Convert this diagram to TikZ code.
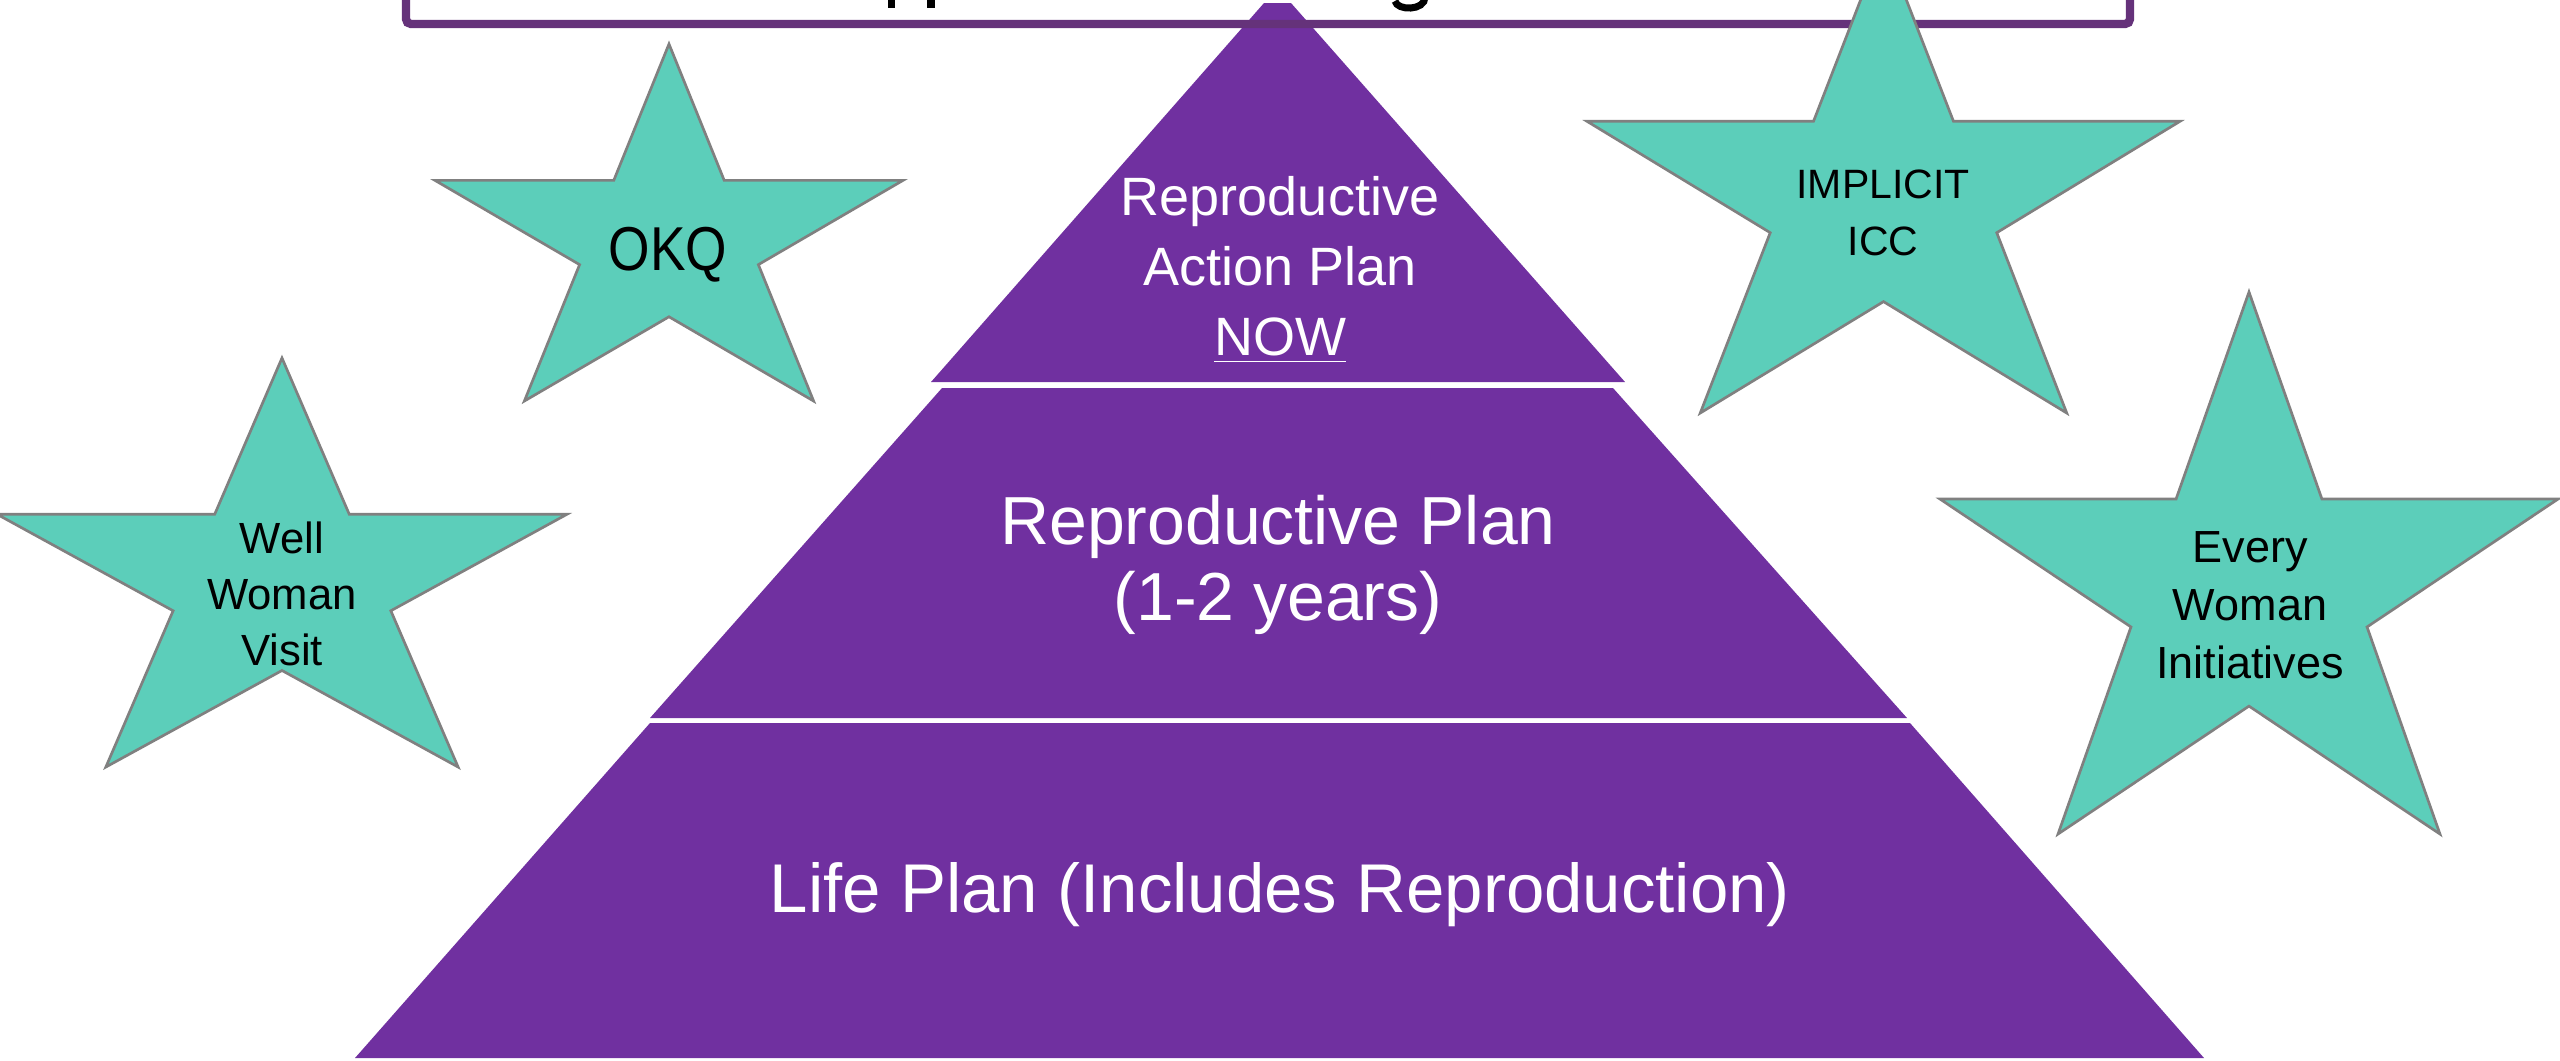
\documentclass[tikz,border=0pt]{standalone}
\usepackage{fontspec}
\setmainfont{Liberation Sans}
\newfontfamily\okqfont[FakeStretch=0.86]{Liberation Sans}
\definecolor{pyr}{RGB}{112,48,160}
\definecolor{starfill}{RGB}{92,206,186}
\definecolor{starline}{RGB}{128,128,128}
\definecolor{boxline}{RGB}{101,50,122}
\newcommand{\drawstar}[4]{%
  \draw[starbody, shift={(#1,#2)}, xscale=#3, yscale=#4]
    (0.5,0) -- (0.618,0.382) -- (1,0.382) -- (0.691,0.618) -- (0.809,1)
    -- (0.5,0.764) -- (0.191,1) -- (0.309,0.618) -- (0,0.382) -- (0.382,0.382) -- cycle;}
\begin{document}
\begin{tikzpicture}[x=0.3pt,y=-0.3pt,
  starbody/.style={fill=starfill, draw=starline, line width=0.8pt, line join=miter},
  tier/.style={fill=pyr},
  titlebox/.style={draw=boxline, line width=2.5pt, rounded corners=1.5pt},
  pyrtext/.style={text=white, align=center, inner sep=0pt},
  startext/.style={text=black, align=center, inner sep=0pt}]
\useasboundingbox (0,0) rectangle (2560,1060);
\clip (0,0) rectangle (2560,1060);
\fill[white] (0,0) rectangle (2560,1060);

% pyramid tiers
\fill[tier] (931,382) -- (1264,3) -- (1291,3) -- (1625,382) -- cycle;
\fill[tier] (942,388) -- (1613,388) -- (1907,718) -- (650,718) -- cycle;
\fill[tier] (650,723) -- (1910,723) -- (2204,1058) -- (355,1058) -- cycle;

% title box (top cut off)
\draw[titlebox] (406,-40) -- (406,24) -- (2130,24) -- (2130,-40);
% visible descenders of the cut-off title
\fill[black] (888,0) rectangle (895,8);
\fill[black] (927,0) rectangle (935,8);
\draw[black, line width=2.1pt] (1395,1) .. controls (1397,11) and (1425,11) .. (1425,-3);

% stars
\drawstar{-3}{358}{570}{409}
\drawstar{435}{44}{468}{357}
\drawstar{1587}{-59}{593}{472}
\drawstar{1940}{292}{618}{542}

% star texts
\node[startext, font={\fontsize{13.1}{16.8}\selectfont}] (wwv) at (282,594) {Well\\Woman\\Visit};
\node[startext, font={\okqfont\fontsize{18.6}{22}\selectfont}] (okq) at (668,255) {OKQ};
\node[startext, font={\fontsize{12.3}{17.1}\selectfont}] (icc) at (1883,213) {IMPLICIT\\ICC};
\node[startext, font={\fontsize{13.5}{17.4}\selectfont}] (ewi) at (2250,605) {Every\\Woman\\Initiatives};

% pyramid texts
\node[pyrtext, font={\fontsize{16.2}{21}\selectfont}] (rap) at (1280,270) {Reproductive\\Action Plan\\\underline{NOW}};
\node[pyrtext, font={\fontsize{20.4}{22.8}\selectfont}] (rp) at (1278,565) {Reproductive Plan\\(1-2 years)};
\node[pyrtext, font={\fontsize{20.7}{24}\selectfont}, anchor=base] (lp) at (1280,912) {Life Plan (Includes Reproduction)};
\end{tikzpicture}
\end{document}
